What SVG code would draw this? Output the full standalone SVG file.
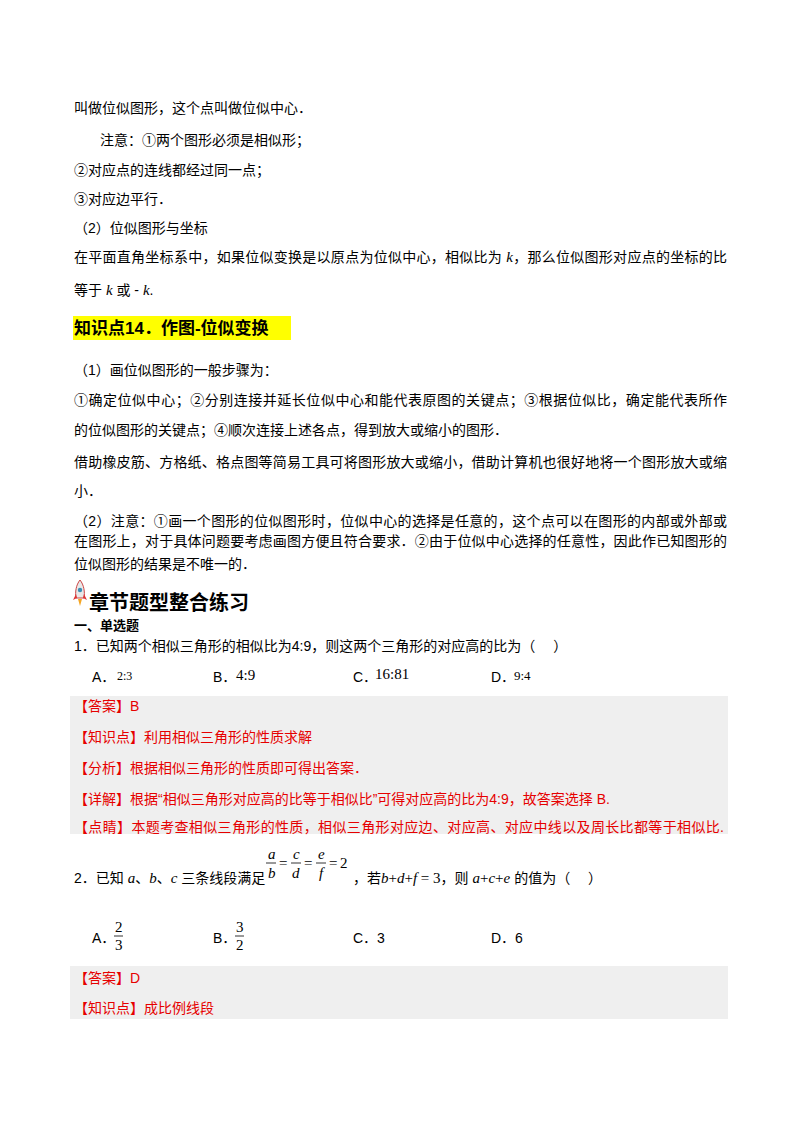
<svg xmlns="http://www.w3.org/2000/svg" width="800" height="1132" viewBox="0 0 800 1132">
<style>
text{font-family:"Liberation Sans","Noto Sans CJK SC",sans-serif;font-size:14px;fill:#000}
.r{fill:#e60000}
.b{font-weight:bold}
.m{font-family:"Liberation Serif","Noto Sans CJK SC",serif;font-style:italic;font-size:15px}
.n{font-family:"Liberation Serif",serif;font-size:15px;font-style:normal}
</style>
<rect width="800" height="1132" fill="#fff"/>
<g id="body">
<text x="74" y="113">叫做位似图形，这个点叫做位似中心．</text>
<text x="100" y="145">注意：①两个图形必须是相似形；</text>
<text x="74" y="175">②对应点的连线都经过同一点；</text>
<text x="74" y="204">③对应边平行．</text>
<text x="74" y="233">（2）位似图形与坐标</text>
<text x="74" y="262" textLength="653" lengthAdjust="spacing">在平面直角坐标系中，如果位似变换是以原点为位似中心，相似比为 <tspan class="m">k</tspan>，那么位似图形对应点的坐标的比</text>
<text x="74" y="295">等于 <tspan class="m">k</tspan> 或 - <tspan class="m">k</tspan>.</text>
<rect x="73" y="316" width="218" height="24" fill="#ffff00"/>
<text x="74" y="334" class="b" style="font-size:17px">知识点14．作图-位似变换</text>
<text x="74" y="375">（1）画位似图形的一般步骤为：</text>
<text x="74" y="405" textLength="653" lengthAdjust="spacing">①确定位似中心；②分别连接并延长位似中心和能代表原图的关键点；③根据位似比，确定能代表所作</text>
<text x="74" y="435">的位似图形的关键点；④顺次连接上述各点，得到放大或缩小的图形．</text>
<text x="74" y="467" textLength="653" lengthAdjust="spacing">借助橡皮筋、方格纸、格点图等简易工具可将图形放大或缩小，借助计算机也很好地将一个图形放大或缩</text>
<text x="74" y="496">小．</text>
<text x="74" y="526" textLength="653" lengthAdjust="spacing">（2）注意：①画一个图形的位似图形时，位似中心的选择是任意的，这个点可以在图形的内部或外部或</text>
<text x="74" y="546" textLength="653" lengthAdjust="spacing">在图形上，对于具体问题要考虑画图方便且符合要求．②由于位似中心选择的任意性，因此作已知图形的</text>
<text x="74" y="569">位似图形的结果是不唯一的．</text>
</g>
<g id="rocket">
<path d="M80 580 C76 585 75 592 76 598 L84 598 C85 592 84 585 80 580Z" fill="#e8e8e8" stroke="#c44" stroke-width="1"/>
<circle cx="80" cy="590" r="2.2" fill="#3a8fb5"/>
<path d="M76 594 L73 600 L77 598Z M84 594 L87 600 L83 598Z" fill="#d33"/>
<path d="M78 599 L80 606 L82 599Z" fill="#f5a623"/>
</g>
<text x="89" y="610" class="b" style="font-size:20px">章节题型整合练习</text>
<text x="74" y="630" class="b" style="font-size:13px">一、单选题</text>
<text x="74" y="651">1．已知两个相似三角形的相似比为4:9，则这两个三角形的对应高的比为（　 ）</text>
<text x="92" y="682">A．</text><text x="117" y="680" class="n" style="font-size:12px">2:3</text>
<text x="213" y="682">B．</text><text x="236" y="680" class="n">4:9</text>
<text x="353" y="682">C．</text><text x="375" y="679" class="n">16:81</text>
<text x="491" y="682">D．</text><text x="514" y="680" class="n" style="font-size:13px">9:4</text>
<rect x="70" y="696" width="658" height="138" fill="#efefef"/>
<text x="74" y="711" class="r">【答案】B</text>
<text x="74" y="742" class="r">【知识点】利用相似三角形的性质求解</text>
<text x="74" y="773" class="r">【分析】根据相似三角形的性质即可得出答案．</text>
<text x="74" y="804" class="r">【详解】根据“相似三角形对应高的比等于相似比”可得对应高的比为4:9，故答案选择 B.</text>
<text x="74" y="832" class="r" textLength="650" lengthAdjust="spacing">【点睛】本题考查相似三角形的性质，相似三角形对应边、对应高、对应中线以及周长比都等于相似比.</text>
<text x="74" y="883">2．已知 <tspan class="m">a</tspan>、<tspan class="m">b</tspan>、<tspan class="m">c</tspan> 三条线段满足</text>
<g id="frac">
<text x="268" y="859" class="m">a</text><line x1="266" y1="863" x2="276" y2="863" stroke="#000" stroke-width="0.8"/><text x="268" y="878" class="m">b</text>
<text x="279" y="868" class="n">=</text>
<text x="293" y="859" class="m">c</text><line x1="291" y1="863" x2="301" y2="863" stroke="#000" stroke-width="0.8"/><text x="292" y="878" class="m">d</text>
<text x="304" y="868" class="n">=</text>
<text x="318" y="859" class="m">e</text><line x1="316" y1="863" x2="326" y2="863" stroke="#000" stroke-width="0.8"/><text x="319" y="878" class="m">f</text>
<text x="329" y="868" class="n">=</text><text x="340" y="868" class="n">2</text>
</g>
<text x="353" y="883">，若<tspan class="m">b</tspan><tspan class="n">+</tspan><tspan class="m">d</tspan><tspan class="n">+</tspan><tspan class="m">f</tspan><tspan class="n"> = 3</tspan>，则 <tspan class="m">a</tspan><tspan class="n">+</tspan><tspan class="m">c</tspan><tspan class="n">+</tspan><tspan class="m">e</tspan> 的值为（　 ）</text>
<text x="92" y="943">A．</text>
<text x="115" y="932" class="n">2</text><line x1="114" y1="936" x2="123" y2="936" stroke="#000" stroke-width="0.8"/><text x="115" y="950" class="n">3</text>
<text x="213" y="943">B．</text>
<text x="236" y="932" class="n">3</text><line x1="235" y1="936" x2="244" y2="936" stroke="#000" stroke-width="0.8"/><text x="236" y="950" class="n">2</text>
<text x="353" y="943">C．3</text>
<text x="491" y="943">D．6</text>
<rect x="70" y="966" width="658" height="53" fill="#efefef"/>
<text x="74" y="983" class="r">【答案】D</text>
<text x="74" y="1013" class="r">【知识点】成比例线段</text>
</svg>
